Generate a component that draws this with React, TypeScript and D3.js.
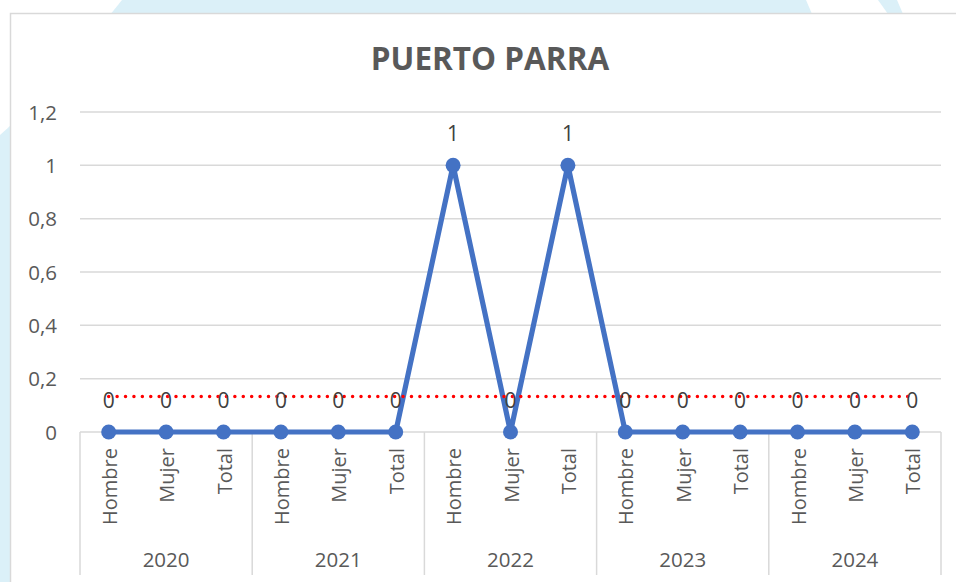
import React from "react";
import * as d3 from "d3";

const years = ["2020", "2021", "2022", "2023", "2024"];
const groups = ["Hombre", "Mujer", "Total"];
const values = [0, 0, 0, 0, 0, 0, 1, 0, 1, 0, 0, 0, 0, 0, 0];
const yTicks = [0, 0.2, 0.4, 0.6, 0.8, 1, 1.2];
const title = "PUERTO PARRA";

const W = 956;
const H = 582;
const M = { left: 80, right: 941, top: 112, bottom: 432 };
const FONT = "'Open Sans', sans-serif";

export default function App() {
  const cats = years.flatMap((y) => groups.map((g) => `${y}|${g}`));
  const x = d3.scaleBand<string>().domain(cats).range([M.left, M.right]);
  const y = d3.scaleLinear().domain([0, 1.2]).range([M.bottom, M.top]);
  const cx = (i: number) => (x(cats[i]) as number) + x.bandwidth() / 2;

  const line = d3
    .line<number>()
    .x((_, i) => cx(i))
    .y((d) => y(d));

  // linear trendline (least squares)
  const n = values.length;
  const xs = values.map((_, i) => i + 1);
  const mx = d3.mean(xs) as number;
  const my = d3.mean(values) as number;
  const slope =
    d3.sum(xs.map((xi, i) => (xi - mx) * (values[i] - my))) /
    d3.sum(xs.map((xi) => (xi - mx) ** 2));
  const icpt = my - slope * mx;
  const trend = [0, n - 1].map((i) => [cx(i), y(icpt + slope * (i + 1))]);

  const fmt = (v: number) => String(v).replace(".", ",");
  const groupW = x.bandwidth() * groups.length;

  return (
    <svg
      width={W}
      height={H}
      style={{ position: "absolute", left: 0, top: 0 }}
    >
      <rect x={0} y={0} width={W} height={H} fill="#dbf0f8" />
      <path d="M0,0 L122,0 C90,40 40,100 0,135 Z" fill="#ffffff" />
      <path d="M806,0 L878,0 L888,14 L812,14 Z" fill="#ffffff" />
      <path d="M897,0 L956,0 L956,14 L903,14 Z" fill="#ffffff" />
      <rect
        x={10.5}
        y={13.5}
        width={960}
        height={600}
        fill="#ffffff"
        stroke="#d9d9d9"
        strokeWidth={1.5}
      />
      <text
        x={490}
        y={70}
        textAnchor="middle"
        fontFamily={FONT}
        fontWeight={700}
        fontSize={31.5}
        fill="#595959"
      >
        {title}
      </text>
      {yTicks.map((t) => (
        <g key={t}>
          <line
            x1={M.left}
            x2={M.right}
            y1={y(t)}
            y2={y(t)}
            stroke="#d9d9d9"
            strokeWidth={1.5}
          />
          <text
            x={57}
            y={y(t) + 7.5}
            textAnchor="end"
            fontFamily={FONT}
            fontSize={20.5}
            fill="#595959"
          >
            {fmt(t)}
          </text>
        </g>
      ))}
      {d3.range(years.length + 1).map((k) => (
        <line
          key={k}
          x1={M.left + k * groupW}
          x2={M.left + k * groupW}
          y1={M.bottom}
          y2={575}
          stroke="#d9d9d9"
          strokeWidth={1.5}
        />
      ))}
      {cats.map((c, i) => (
        <text
          key={c}
          transform={`translate(${cx(i) + 8},448) rotate(-90)`}
          textAnchor="end"
          fontFamily={FONT}
          fontSize={20}
          fill="#595959"
        >
          {c.split("|")[1]}
        </text>
      ))}
      {years.map((yr, k) => (
        <text
          key={yr}
          x={M.left + k * groupW + groupW / 2}
          y={567}
          textAnchor="middle"
          fontFamily={FONT}
          fontSize={20.5}
          fill="#595959"
        >
          {yr}
        </text>
      ))}
      <path
        d={line(values) as string}
        fill="none"
        stroke="#4472c4"
        strokeWidth={5.2}
        strokeLinejoin="round"
      />
      {values.map((v, i) => (
        <circle key={i} cx={cx(i)} cy={y(v)} r={7.5} fill="#4472c4" />
      ))}
      <line
        x1={trend[0][0]}
        y1={trend[0][1]}
        x2={trend[1][0]}
        y2={trend[1][1]}
        stroke="#ff0000"
        strokeWidth={3.5}
        strokeDasharray="0.01 8.4"
        strokeLinecap="round"
      />
      {values.map((v, i) => (
        <text
          key={i}
          x={cx(i)}
          y={y(v) - 24}
          textAnchor="middle"
          fontFamily={FONT}
          fontSize={21}
          fill="#404040"
        >
          {v}
        </text>
      ))}
    </svg>
  );
}
